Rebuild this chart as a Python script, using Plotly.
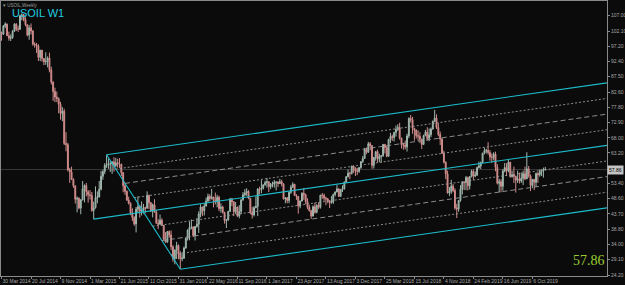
import plotly.graph_objects as go
import pandas as pd

# ---------------- data (weekly USOIL bars, week start dates) ----------------
first_week = "2014-03-30"

opens_2014 = [101.6,101.1,103.7,104.3,100.6,99.8,100.0,102.0,104.3,102.7,
              102.7,106.9,107.3,105.7,104.1,100.8,103.1,102.1,97.9,97.7,
              97.3,93.7,96.0,93.3,92.3,92.4,93.5,89.7,85.8,82.8,
              81.0,80.5,78.7,75.8,76.5,66.2,65.8,57.8,57.1,54.7]
highs_2014 = [101.9,104.0,104.9,104.5,101.9,101.0,102.4,104.6,104.6,103.8,
              107.3,107.7,107.5,106.5,104.2,104.0,104.5,102.4,98.5,98.3,
              97.9,96.0,96.0,93.4,95.3,94.0,95.2,90.7,86.0,84.0,
              82.8,80.9,79.5,77.8,77.3,69.8,66.4,58.4,58.8,55.1]
lows_2014 = [99.0,100.8,103.0,100.5,99.0,98.9,99.6,101.8,102.1,101.8,
             102.4,105.5,105.2,103.6,100.4,99.3,101.0,97.4,96.8,95.1,
             92.5,92.5,92.3,91.2,91.3,90.5,88.9,85.0,79.8,79.4,
             79.4,75.8,73.8,73.3,65.7,63.7,57.3,53.6,54.5,52.0]
closes_2014 = [101.1,103.7,104.3,100.6,99.8,100.0,102.0,104.3,102.7,102.7,
               106.9,107.3,105.7,104.1,100.8,103.1,102.1,97.9,97.7,97.3,
               93.7,96.0,93.3,92.3,92.4,93.5,89.7,85.8,82.8,81.0,
               80.5,78.7,75.8,76.5,66.2,65.8,57.8,57.1,54.7,52.7]

opens_2015 = [52.7,48.4,48.7,45.6,48.2,51.7,52.8,50.8,49.8,49.6,
              44.8,45.7,48.9,49.1,51.6,55.7,57.2,59.2,59.4,59.7,
              59.7,60.3,59.1,60.0,59.6,59.6,56.9,52.7,50.9,48.1,
              47.1,43.9,42.5,40.5,45.2,46.1,44.6,44.7,45.7,45.5,
              49.6,47.3,44.6,46.6,44.3,40.7,40.4,41.7,40.0,35.6,
              34.7,38.1]
highs_2015 = [52.7,49.3,49.0,48.4,54.2,53.1,53.6,51.3,51.3,50.7,
              47.6,52.5,50.9,54.2,57.4,57.8,59.9,62.6,61.4,60.6,
              60.6,61.8,61.6,61.3,61.5,59.7,57.0,53.6,51.2,49.2,
              47.4,45.5,43.0,45.9,49.3,46.5,47.7,46.9,46.0,50.9,
              49.9,47.5,47.0,48.4,44.9,42.0,43.5,42.3,40.2,37.9,
              38.2,38.4]
lows_2015 = [47.0,44.2,45.2,43.6,48.0,47.4,49.3,47.3,48.3,44.4,
             42.0,45.4,47.1,49.0,51.2,54.6,56.4,58.4,58.1,57.1,
             56.5,57.2,58.6,58.5,58.4,55.8,50.6,49.8,47.9,46.7,
             43.3,41.4,39.9,37.8,44.0,42.5,43.2,43.8,43.9,45.4,
             45.3,44.3,42.6,44.1,40.6,38.9,40.3,39.8,35.2,34.5,
             34.5,36.1]
closes_2015 = [48.4,48.7,45.6,48.2,51.7,52.8,50.8,49.8,49.6,44.8,
               45.7,48.9,49.1,51.6,55.7,57.2,59.2,59.4,59.7,59.7,
               60.3,59.1,60.0,59.6,59.6,56.9,52.7,50.9,48.1,47.1,
               43.9,42.5,40.5,45.2,46.1,44.6,44.7,45.7,45.5,49.6,
               47.3,44.6,46.6,44.3,40.7,40.4,41.7,40.0,35.6,34.7,
               38.1,37.0]

opens_2016 = [37.0,33.2,29.4,32.2,33.6,30.9,29.4,29.6,32.8,35.9,
              38.5,39.4,39.5,36.8,39.7,40.4,43.7,45.9,44.7,46.2,
              47.8,49.3,48.6,49.1,48.0,47.6,49.0,45.4,45.9,44.2,
              41.6,41.8,44.5,48.5,47.6,44.4,45.9,43.0,44.5,48.2,
              49.8,50.4,50.9,48.7,44.1,43.4,45.7,46.1,51.7,51.5,
              51.9,53.0]
highs_2016 = [38.4,33.7,32.3,34.8,34.0,31.8,31.5,33.3,36.2,38.8,
              41.2,41.9,39.8,39.8,42.4,44.5,46.8,46.0,47.0,48.9,
              50.2,50.0,51.7,49.1,50.5,49.8,49.5,47.1,46.3,44.4,
              42.1,44.7,48.8,48.8,47.8,47.5,46.0,46.5,48.3,50.7,
              51.6,51.9,51.3,48.8,46.0,46.2,49.2,51.8,52.4,54.5,
              53.1,54.3]
lows_2016 = [32.1,28.4,27.6,29.3,29.2,26.1,28.6,29.3,32.6,35.2,
             35.3,38.8,36.3,35.2,39.3,37.6,42.6,43.0,43.2,46.1,
             47.6,47.8,48.3,45.8,46.7,45.8,44.6,44.1,43.8,40.6,
             39.2,41.5,44.3,46.2,43.0,43.7,42.7,42.3,43.6,47.9,
             49.3,49.5,48.4,43.6,42.2,42.9,45.5,43.0,49.9,50.3,
             51.5,52.7]
closes_2016 = [33.2,29.4,32.2,33.6,30.9,29.4,29.6,32.8,35.9,38.5,
               39.4,39.5,36.8,39.7,40.4,43.7,45.9,44.7,46.2,47.8,
               49.3,48.6,49.1,48.0,47.6,49.0,45.4,45.9,44.2,41.6,
               41.8,44.5,48.5,47.6,44.4,45.9,43.0,44.5,48.2,49.8,
               50.4,50.9,48.7,44.1,43.4,45.7,46.1,51.7,51.5,51.9,
               53.0,53.7]

opens_2017 = [53.7,54.0,52.4,53.2,53.2,53.8,53.9,53.4,54.0,53.3,
              48.5,48.8,48.0,50.6,52.2,53.2,49.6,49.3,46.2,47.8,
              50.3,49.8,47.7,45.8,44.7,43.0,46.0,44.2,46.5,45.8,
              49.7,49.6,48.8,48.5,47.9,47.3,47.5,49.9,50.7,51.7,
              49.3,51.5,51.8,53.9,55.6,56.7,56.6,59.0,58.4,57.4,
              57.3,58.5]
highs_2017 = [55.2,54.0,53.6,54.0,54.5,54.0,54.1,54.9,54.6,53.5,
              49.1,49.1,50.9,52.9,53.8,53.2,50.0,49.4,48.0,50.6,
              52.0,50.2,48.7,46.6,45.0,46.4,47.3,46.7,47.4,49.8,
              50.4,50.2,49.2,48.8,48.0,49.4,50.2,50.9,52.9,51.8,
              51.6,52.8,54.0,55.7,57.9,57.2,59.0,59.1,58.6,58.4,
              58.6,60.5]
lows_2017 = [52.1,50.7,51.6,52.2,52.1,51.2,52.3,53.3,52.5,48.3,
             47.1,47.1,47.1,50.1,52.0,49.5,48.2,43.8,45.5,47.7,
             48.2,46.8,45.2,44.5,42.1,42.9,43.8,43.9,45.3,45.4,
             48.5,47.9,46.5,47.1,45.6,47.0,46.9,49.3,50.6,49.1,
             49.3,50.7,51.4,53.7,55.3,54.8,56.3,56.8,55.8,56.1,
             56.8,58.1]
closes_2017 = [54.0,52.4,53.2,53.2,53.8,53.9,53.4,54.0,53.3,48.5,
               48.8,48.0,50.6,52.2,53.2,49.6,49.3,46.2,47.8,50.3,
               49.8,47.7,45.8,44.7,43.0,46.0,44.2,46.5,45.8,49.7,
               49.6,48.8,48.5,47.9,47.3,47.5,49.9,50.7,51.7,49.3,
               51.5,51.8,53.9,55.6,56.7,56.6,59.0,58.4,57.4,57.3,
               58.5,60.4]

opens_2018 = [60.4,61.4,64.3,63.4,66.1,65.5,59.2,61.7,63.6,61.3,
              62.0,62.3,65.9,64.9,62.1,67.4,68.4,68.1,69.7,70.7,
              71.3,67.9,65.8,65.7,65.1,68.6,74.2,73.8,71.0,70.5,
              68.7,68.5,67.6,65.9,68.7,69.8,67.8,69.0,70.8,73.3,
              74.3,71.3,69.1,67.6,63.1,60.2,56.5,50.4,50.9,52.6,
              51.2,45.6]
highs_2018 = [62.2,64.8,64.9,66.7,66.6,65.7,61.9,63.7,64.2,62.9,
              62.4,66.0,66.0,65.5,67.7,69.6,69.0,70.0,71.9,72.3,
              72.8,68.0,66.3,67.1,69.3,74.5,75.3,74.7,71.2,70.6,
              70.4,69.8,67.7,69.0,70.5,71.4,71.0,71.3,73.5,76.9,
              75.5,72.7,70.0,67.9,63.9,60.5,57.5,52.3,54.6,53.3,
              51.9,46.9]
lows_2018 = [60.0,61.3,62.8,63.2,64.0,58.1,58.2,60.7,60.1,60.2,
             60.1,61.9,63.0,61.8,62.0,66.3,67.0,66.8,68.4,70.2,
             67.4,64.6,64.2,64.3,63.6,67.9,72.9,69.3,67.1,67.8,
             67.0,66.3,64.4,65.7,68.5,67.1,66.9,68.2,70.6,73.0,
             70.8,68.5,65.7,62.8,59.8,54.8,50.2,49.4,50.1,50.6,
             45.0,42.4]
closes_2018 = [61.4,64.3,63.4,66.1,65.5,59.2,61.7,63.6,61.3,62.0,
               62.3,65.9,64.9,62.1,67.4,68.4,68.1,69.7,70.7,71.3,
               67.9,65.8,65.7,65.1,68.6,74.2,73.8,71.0,70.5,68.7,
               68.5,67.6,65.9,68.7,69.8,67.8,69.0,70.8,73.3,74.3,
               71.3,69.1,67.6,63.1,60.2,56.5,50.4,50.9,52.6,51.2,
               45.6,45.3]

opens_2019 = [45.3,48.0,51.6,53.8,53.7,55.3,52.7,55.6,57.3,55.8,
              56.1,58.5,59.0,60.1,63.1,63.9,64.0,63.3,61.9,61.7,
              62.8,58.6,53.5,54.0,52.5,57.4,58.5,57.5,60.2,55.6,
              56.2,55.7,54.5,54.9,54.2,55.1,56.5,54.9,58.1,55.9,
              52.8,54.7,53.8,56.6,56.2,57.2,57.7,57.8]
highs_2019 = [48.1,52.9,54.1,54.2,55.8,55.6,55.8,57.8,57.9,57.3,
              58.8,60.4,60.4,63.2,64.8,64.5,66.6,64.1,63.0,63.4,
              63.6,59.6,54.9,54.8,58.0,60.0,59.9,60.9,60.3,57.5,
              58.8,55.9,57.5,56.9,56.9,57.5,58.8,63.4,59.0,56.3,
              54.9,54.9,56.9,57.0,57.9,57.9,58.5,58.7]
lows_2019 = [44.4,47.6,49.9,51.3,51.3,51.2,51.5,55.4,54.5,55.4,
             55.8,58.2,58.0,60.0,62.7,63.0,62.6,60.7,60.0,60.8,
             57.3,53.1,50.6,50.6,51.1,57.0,55.8,57.0,55.3,55.3,
             53.6,50.5,53.6,53.4,53.6,52.9,54.5,54.8,55.3,51.0,
             51.9,51.3,52.3,53.6,55.6,55.8,55.3,57.6]
closes_2019 = [48.0,51.6,53.8,53.7,55.3,52.7,55.6,57.3,55.8,56.1,
               58.5,59.0,60.1,63.1,63.9,64.0,63.3,61.9,61.7,62.8,
               58.6,53.5,54.0,52.5,57.4,58.5,57.5,60.2,55.6,56.2,
               55.7,54.5,54.9,54.2,55.1,56.5,54.9,58.1,55.9,52.8,
               54.7,53.8,56.6,56.2,57.2,57.7,57.8,57.86]

date_tick_labels = ["30 Mar 2014", "20 Jul 2014", "9 Nov 2014", "1 Mar 2015",
                    "21 Jun 2015", "11 Oct 2015", "31 Jan 2016", "22 May 2016",
                    "11 Sep 2016", "1 Jan 2017", "23 Apr 2017", "13 Aug 2017",
                    "3 Dec 2017", "25 Mar 2018", "15 Jul 2018", "4 Nov 2018",
                    "24 Feb 2019", "16 Jun 2019", "6 Oct 2019"]
# (the 58.30 level is hidden under the current-price box in the reference)
price_tick_labels = ["24.20", "29.10", "34.00", "38.80", "43.70", "48.60",
                     "53.40", "63.20", "68.00", "72.90", "77.80",
                     "82.60", "87.50", "92.40", "97.20", "102.10", "107.00"]

# Andrews pitchfork anchors (handle, upper, lower) and its inner levels
pf_dates = ["2015-03-15", "2015-05-03", "2016-02-07"]
pf_prices = [42.03, 62.58, 26.05]
pf_levels = [0.25, 0.5, 0.75]

symbol_title = "USOIL W1"
window_caption = "USOIL,Weekly"

# ---------------- assemble ----------------
opens = opens_2014 + opens_2015 + opens_2016 + opens_2017 + opens_2018 + opens_2019
highs = highs_2014 + highs_2015 + highs_2016 + highs_2017 + highs_2018 + highs_2019
lows = lows_2014 + lows_2015 + lows_2016 + lows_2017 + lows_2018 + lows_2019
closes = closes_2014 + closes_2015 + closes_2016 + closes_2017 + closes_2018 + closes_2019
dates = pd.date_range(first_week, periods=len(closes), freq="7D")
last_price = closes[-1]

t0 = pd.Timestamp(first_week)
x_start = t0 - pd.Timedelta(days=2)
x_end = t0 + pd.Timedelta(days=7 * 328.5)

BG = "#0b0b0b"
FRAME = "#8a8a8a"
LABEL = "#a8a8a8"
CYAN = "#1cbccb"

fig = go.Figure()

fig.add_trace(go.Candlestick(
    x=dates, open=opens, high=highs, low=lows, close=closes,
    increasing=dict(line=dict(color="#a3b8ae", width=1), fillcolor="#5f9e88"),
    decreasing=dict(line=dict(color="#cf8c8c", width=1), fillcolor="#ea8383"),
    whiskerwidth=0, showlegend=False, hoverinfo="skip",
))

# pitchfork geometry (in days from first week)
def days(d):
    return (pd.Timestamp(d) - t0).total_seconds() / 86400.0

def to_ts(dd):
    return t0 + pd.Timedelta(days=dd)

t1, t2, t3 = [days(d) for d in pf_dates]
p1, p2, p3 = pf_prices
tm, pm = (t2 + t3) / 2.0, (p2 + p3) / 2.0
slope = (pm - p1) / (tm - t1)
t_end = days(x_end)

def ray(ts, ps, color, dash, width):
    fig.add_trace(go.Scatter(
        x=[to_ts(ts), to_ts(t_end)], y=[ps, ps + slope * (t_end - ts)],
        mode="lines", line=dict(color=color, width=width, dash=dash),
        showlegend=False, hoverinfo="skip"))

# handle segment between upper and lower anchors
fig.add_trace(go.Scatter(x=[to_ts(t2), to_ts(t3)], y=[p2, p3], mode="lines",
                         line=dict(color=CYAN, width=1.1), showlegend=False,
                         hoverinfo="skip"))
ray(t1, p1, CYAN, "solid", 1.1)
ray(t2, p2, CYAN, "solid", 1.1)
ray(t3, p3, CYAN, "solid", 1.1)
for k in pf_levels:
    style = "5px,3px" if k == 0.5 else "2px,2px"
    for (ta, pa) in [(t2, p2), (t3, p3)]:
        ts = tm + k * (ta - tm)
        ps = pm + k * (pa - pm)
        ray(ts, ps, "#9a9a9a", style, 0.9)

# bid line
fig.add_shape(type="line", xref="paper", x0=0, x1=1, yref="y",
              y0=last_price, y1=last_price,
              line=dict(color="#3a3a3a", width=1), layer="below")

fig.add_annotation(xref="paper", x=1.0, xanchor="left", yref="y", y=last_price,
                   yanchor="middle", text=f"{last_price:.2f}", showarrow=False,
                   font=dict(family="Liberation Sans", size=5, color="#000000"),
                   bgcolor="#c4c4c4", borderpad=1)
fig.add_annotation(xref="paper", x=0.9995, xanchor="right", yref="paper", y=0.055,
                   yanchor="middle", text=f"{last_price:.2f}", showarrow=False,
                   font=dict(family="Liberation Serif", size=14, color="#9acd32"))
fig.add_annotation(xref="paper", x=0.0145, xanchor="left", yref="paper", y=0.958,
                   yanchor="middle", text=symbol_title, showarrow=False,
                   font=dict(family="Liberation Sans", size=11, color="#22cce0"))
fig.add_annotation(xref="paper", x=0.0, xanchor="left", yref="paper", y=0.985,
                   yanchor="middle", text="▾ " + window_caption, showarrow=False,
                   font=dict(family="Liberation Sans", size=4.5, color="#9a9a9a"))

fig.update_layout(
    width=625, height=285,
    margin=dict(l=1, r=18, t=1, b=9, pad=0),
    paper_bgcolor=BG, plot_bgcolor=BG,
    showlegend=False, hovermode=False,
    xaxis=dict(
        type="date", range=[x_start, x_end],
        tickvals=[pd.to_datetime(s, format="%d %b %Y") for s in date_tick_labels],
        ticktext=date_tick_labels, tickangle=0,
        ticks="outside", ticklen=2, tickcolor=FRAME, tickwidth=1,
        ticklabelposition="outside right",
        tickfont=dict(family="Liberation Sans", size=5, color=LABEL),
        showgrid=False, zeroline=False, showline=True, linecolor=FRAME,
        linewidth=1, mirror=True, rangeslider=dict(visible=False),
        automargin=False, fixedrange=True,
    ),
    yaxis=dict(
        side="right", range=[23.88, 111.68],
        tickvals=[float(v) for v in price_tick_labels], ticktext=price_tick_labels,
        ticks="outside", ticklen=2, tickcolor=FRAME, tickwidth=1,
        tickfont=dict(family="Liberation Sans", size=5, color=LABEL),
        showgrid=False, zeroline=False, showline=True, linecolor=FRAME,
        linewidth=1, mirror=True, automargin=False, fixedrange=True,
    ),
)

fig.write_html("out.html")
